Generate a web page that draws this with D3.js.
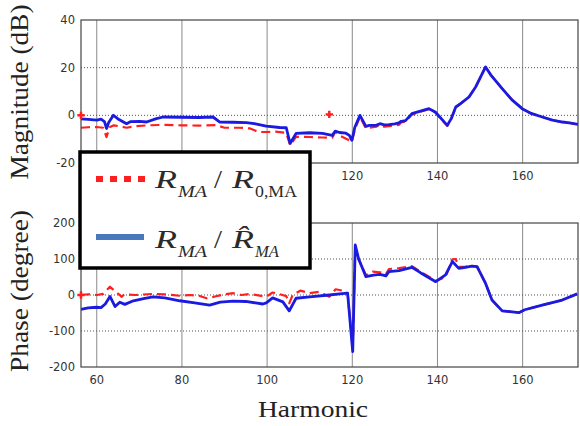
<!DOCTYPE html>
<html lang="en">
<head>
    <meta charset="UTF-8">
    <title>Magnitude / Phase vs Harmonic</title>
    <style>
        body { margin: 0; background: #fff; }
    </style>
</head>
<body>
    <div id="chart"></div>
    <script src="https://d3js.org/d3.v7.min.js"></script>
    <script type="text/javascript">

        // ---- data ----
        var xTicks = [60, 80, 100, 120, 140, 160];
        var magTicks = [-20, 0, 20, 40];
        var phaseTicks = [-200, -100, 0, 100, 200];

        // magnitude, R_MA / R_hat_MA (blue)
        var magFitH = [56.3, 58, 60, 61, 61.8, 62.3, 62.8, 63.9, 65, 67, 68, 70, 71.7, 74, 75.6, 80, 84, 87.3, 88.9, 92, 95.1, 97, 99.8, 102.9, 104.5, 105.4, 106.8, 110, 113, 115.3, 116, 117, 118.5, 119.3, 119.9, 120.6, 121.8, 123.2, 124, 125.6, 126.5, 127.5, 128.6, 130, 130.9, 131.5, 132.5, 134, 136, 138, 139.5, 142.3, 143.2, 144.3, 145.5, 147.4, 149, 151.3, 152.5, 155.2, 157.5, 159.9, 162, 164.6, 167, 169.3, 171, 173];
        var magFitV = [-1.5, -1.7, -2, -1.6, -2.6, -5.5, -3, 0, -1.5, -3.5, -2.6, -2.5, -2.8, -1.4, -0.7, -0.8, -0.9, -0.7, -2.8, -2.9, -3.1, -3.5, -4.5, -5.1, -5.2, -11.8, -7.6, -7.3, -7.6, -8.4, -6.6, -7.2, -7.5, -8.4, -10.5, -5, 0, -4.6, -4.2, -4.2, -3.5, -4, -3.9, -3.6, -3.2, -2.5, -2.2, 0.7, 1.8, 2.8, 1.4, -4.2, -1.5, 3.5, 5, 7.7, 12, 20.3, 17, 11.2, 6.5, 2.8, 0.8, -0.7, -2, -2.8, -3.2, -3.8];

        // magnitude, R_MA / R_0,MA (red dashed)
        var magBaseH = [56.3, 58, 60, 61.5, 62.3, 63, 64, 66, 67, 69, 72, 76, 80, 84, 88, 90, 93.5, 96, 98, 100, 102, 104.5, 105.4, 106.8, 110, 113, 115.3, 116, 117, 119.3, 119.9, 120.6, 121.8, 123.2, 124, 125.6, 126.5, 127.5, 128.6, 130, 130.9, 131.5, 132.5, 134, 136, 138, 139.5, 142.3, 143.2, 144.3, 145.5, 147.4, 149, 151.3, 152.5, 155.2, 157.5, 159.9, 162, 164.6, 167, 169.3, 171, 173];
        var magBaseV = [-5.2, -5, -4.9, -5.2, -9.1, -5, -4.2, -4.8, -5.2, -4.6, -4.2, -4, -4.2, -4.3, -4.1, -5.2, -5.2, -5.5, -7, -7, -6.8, -7.4, -12.5, -9, -9.1, -9.3, -9.4, -7, -8.5, -10.5, -11, -6, -0.5, -5.6, -5.2, -4.8, -4, -4.8, -4.5, -4.3, -4, -3, -2.6, 0.3, 1.5, 2.6, 1.2, -4.4, -1.7, 3.3, 5, 7.7, 12, 20.3, 17, 11.2, 6.5, 2.8, 0.8, -0.7, -2, -2.8, -3.2, -3.8];

        // phase, R_MA / R_hat_MA (blue)
        var phFitH = [56.3, 58, 60, 61, 62, 63.1, 64.3, 65.4, 66.6, 68.6, 71, 73.2, 76, 79.5, 83, 86.5, 89, 92, 95, 99, 99.8, 101.3, 103.7, 105.2, 106.8, 110, 114.6, 117, 118.9, 120.1, 120.7, 121.5, 123.2, 125, 126.5, 127.9, 128.6, 131, 134, 136, 139.6, 141.9, 143.5, 145, 146.6, 148, 149.3, 151.3, 152.8, 155.2, 157, 159.1, 160.5, 164.6, 169.3, 172.8];
        var phFitV = [-40, -36, -34, -35, -25, -4, -32, -20, -26, -16, -10, -5, -8, -16, -22, -28, -20, -17, -18, -25, -22, -8, -19, -44, -9, -5, 0, 3, 5, -157, 139, 100, 51, 55, 57, 53, 65, 68, 77, 62, 37, 56, 93, 74, 77, 80, 79, 32, -14, -44, -46, -49, -41, -28, -14, 3];

        // phase, R_MA / R_0,MA (red dashed)
        var phBaseH = [56.3, 58, 60, 61.5, 63.1, 64.7, 65.4, 65.8, 66.5, 69, 73.2, 76, 79.5, 81.9, 84, 85.8, 87.5, 90, 92.1, 94, 96, 99.8, 101.3, 103, 104.5, 105.2, 106, 107.8, 110, 112.3, 114.6, 116.1, 117.7, 118.9, 120.1, 120.7, 121.5, 123.2, 124.8, 126.5, 127.9, 128.6, 131, 134, 136, 139.6, 141.9, 143.5, 144.3, 145, 146.6, 148, 149.3, 151.3, 152.8, 155.2, 157, 159.1, 160.5, 164.6, 169.3, 172.8];
        var phBaseV = [0, 2, 0, 3, 23, 6, 0, -5, 2, 0, 3, 2, -2, 0, -2, -9, -5, 2, 5, 0, 3, -5, 7, 2, -3, -23, 0, 12, 5, 9, -5, 16, 12, 5, -150, 132, 98, 55, 65, 63, 58, 72, 75, 80, 65, 39, 50, 99, 100, 78, 79, 81, 79, 32, -14, -44, -46, -49, -41, -28, -14, 3];

        // red star markers: [harmonic, value, panel]
        var markers = [[56.3, 0, "mag"], [114.6, 0.4, "mag"], [56.3, 0, "phase"]];

        var width = 580, height = 426;

        var svg = d3.select("#chart")
            .append("svg")
            .attr("width", width)
            .attr("height", height)
            .style("font-family", "'Liberation Serif', 'Times New Roman', serif");

        var x = d3.scaleLinear().domain([56.3, 173]).range([81, 578]);
        var yMag = d3.scaleLinear().domain([-20, 40]).range([163, 20]);
        var yPh = d3.scaleLinear().domain([-200, 200]).range([367, 223]);

        function zip(h, v) {
            return h.map(function (d, i) { return [d, v[i]]; });
        }

        function drawPanel(y, yTicks, xLabelY, series) {
            var g = svg.append("g");
            var y0 = y.range()[0], y1 = y.range()[1];

            // vertical grid (solid)
            g.selectAll(".vg").data(xTicks).enter().append("line")
                .attr("x1", function (d) { return x(d); })
                .attr("x2", function (d) { return x(d); })
                .attr("y1", y1).attr("y2", y0)
                .attr("stroke", "#8a8a8a")
                .attr("stroke-width", 1);

            // horizontal grid (dotted)
            g.selectAll(".hg").data(yTicks.slice(1, -1)).enter().append("line")
                .attr("x1", x.range()[0]).attr("x2", x.range()[1])
                .attr("y1", function (d) { return y(d); })
                .attr("y2", function (d) { return y(d); })
                .attr("stroke", "#555")
                .attr("stroke-width", 1)
                .attr("stroke-dasharray", "1,2");

            // the lines
            series.forEach(function (s) {
                g.append("path")
                    .datum(s.data)
                    .attr("fill", "none")
                    .attr("stroke", s.color)
                    .attr("stroke-width", s.w)
                    .attr("stroke-dasharray", s.dash)
                    .attr("stroke-linejoin", "round")
                    .attr("d", d3.line()
                        .x(function (d) { return x(d[0]); })
                        .y(function (d) { return y(d[1]); }));
            });

            // frame
            g.append("rect")
                .attr("x", x.range()[0]).attr("y", y1)
                .attr("width", x.range()[1] - x.range()[0])
                .attr("height", y0 - y1)
                .attr("fill", "none")
                .attr("stroke", "#444")
                .attr("stroke-width", 1.2);

            // tick labels
            g.selectAll(".yl").data(yTicks).enter().append("text")
                .attr("x", 75)
                .attr("y", function (d) { return y(d) + 4; })
                .attr("text-anchor", "end")
                .style("font-family", "'DejaVu Sans', sans-serif")
                .style("font-size", "11.5px")
                .attr("fill", "#333")
                .text(function (d) { return d; });

            g.selectAll(".xl").data(xTicks).enter().append("text")
                .attr("x", function (d) { return x(d); })
                .attr("y", xLabelY)
                .attr("text-anchor", "middle")
                .style("font-family", "'DejaVu Sans', sans-serif")
                .style("font-size", "11.5px")
                .attr("fill", "#333")
                .text(function (d) { return d; });

            return g;
        }

        var red = "#ff1f1f", blue = "#1a1ae0";

        drawPanel(yMag, magTicks, 180, [
            { data: zip(magBaseH, magBaseV), color: red, w: 2.2, dash: "9,5" },
            { data: zip(magFitH, magFitV), color: blue, w: 2.8, dash: null }
        ]);

        drawPanel(yPh, phaseTicks, 384, [
            { data: zip(phBaseH, phBaseV), color: red, w: 2.2, dash: "9,5" },
            { data: zip(phFitH, phFitV), color: blue, w: 2.8, dash: null }
        ]);

        // red markers
        svg.selectAll(".mk").data(markers).enter().append("path")
            .attr("transform", function (d) {
                var yy = d[2] == "mag" ? yMag(d[1]) : yPh(d[1]);
                return "translate(" + x(d[0]) + "," + yy + ")";
            })
            .attr("d", d3.symbol().type(d3.symbolCross).size(30))
            .attr("fill", red);

        // axis titles
        svg.append("text")
            .attr("transform", "translate(28,92) rotate(-90)")
            .attr("text-anchor", "middle")
            .style("font-size", "26px")
            .attr("textLength", 175)
            .attr("lengthAdjust", "spacingAndGlyphs")
            .attr("fill", "#222")
            .text("Magnitude (dB)");

        svg.append("text")
            .attr("transform", "translate(28,291) rotate(-90)")
            .attr("text-anchor", "middle")
            .style("font-size", "26px")
            .attr("textLength", 162)
            .attr("lengthAdjust", "spacingAndGlyphs")
            .attr("fill", "#222")
            .text("Phase (degree)");

        svg.append("text")
            .attr("x", 258)
            .attr("y", 417)
            .style("font-size", "24px")
            .attr("textLength", 110)
            .attr("lengthAdjust", "spacingAndGlyphs")
            .attr("fill", "#222")
            .text("Harmonic");

        // legend
        var leg = svg.append("g");
        leg.append("rect")
            .attr("x", 80).attr("y", 152)
            .attr("width", 230).attr("height", 116)
            .attr("fill", "#fff")
            .attr("stroke", "#000")
            .attr("stroke-width", 3.5);

        leg.append("line")
            .attr("x1", 96).attr("x2", 145)
            .attr("y1", 179).attr("y2", 179)
            .attr("stroke", red)
            .attr("stroke-width", 6)
            .attr("stroke-dasharray", "7,7");

        leg.append("line")
            .attr("x1", 96).attr("x2", 144)
            .attr("y1", 237).attr("y2", 237)
            .attr("stroke", "#4a78bd")
            .attr("stroke-width", 6);

        function piece(px, py, str, size, italic, len) {
            var t = leg.append("text")
                .attr("x", px).attr("y", py)
                .style("font-size", size + "px")
                .style("font-style", italic ? "italic" : "normal")
                .attr("fill", "#2a2a2a")
                .text(str);
            if (len) {
                t.attr("textLength", len).attr("lengthAdjust", "spacingAndGlyphs");
            }
            return t;
        }

        // R_MA / R_0,MA
        piece(155, 188, "R", 26, true, 22);
        piece(178, 197, "MA", 16, true, 29);
        piece(214, 188, "/", 25, false, 8);
        piece(232, 188, "R", 26, true, 22);
        piece(255, 197, "0,MA", 16, false, 42);

        // R_MA / R-hat_MA
        piece(155, 248, "R", 26, true, 22);
        piece(178, 257, "MA", 16, true, 29);
        piece(214, 248, "/", 25, false, 8);
        piece(232, 248, "R\u0302", 26, true, 22);
        piece(255, 257, "MA", 16, true, 24);

    </script>
</body>
</html>
